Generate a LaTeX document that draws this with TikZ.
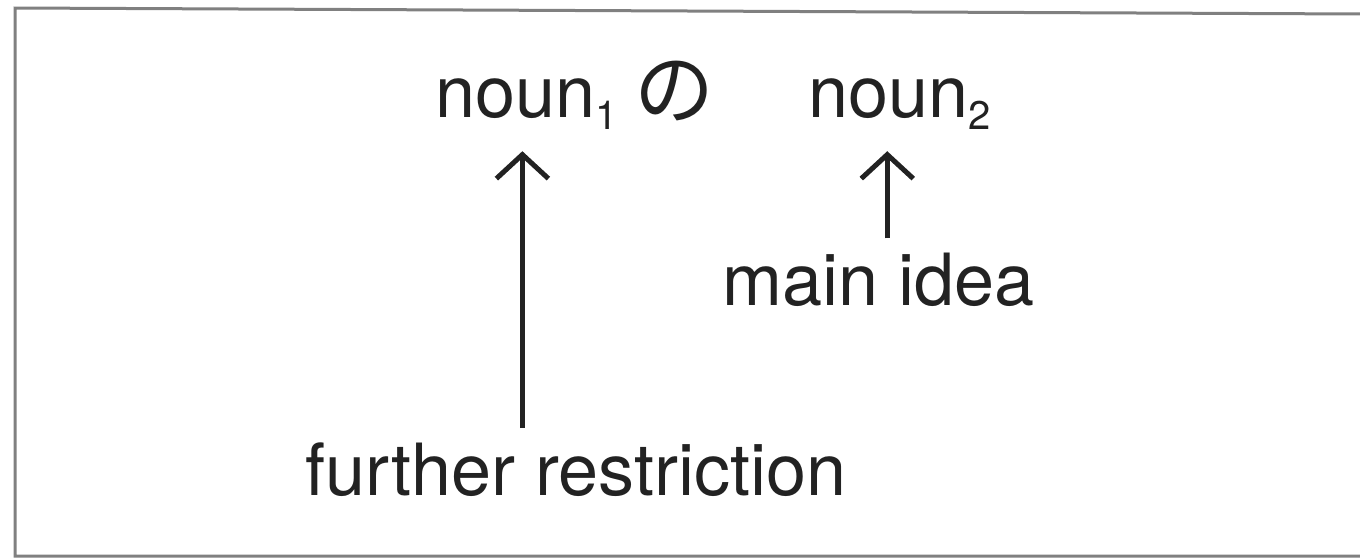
\documentclass[tikz,border=0pt]{standalone}
\usepackage{fontspec}
\setmainfont{TeX Gyre Heros}
\newfontfamily\jpfont{Noto Sans CJK JP}
\usetikzlibrary{arrows.meta,positioning}
\definecolor{ink}{HTML}{222222}
\definecolor{framegray}{HTML}{808080}
\newcommand{\nsub}[1]{\raisebox{-12pt}{\fontsize{40}{40}\selectfont #1}}
\tikzset{word/.style={text=ink,font=\fontsize{72}{80}\selectfont,inner sep=0pt,anchor=base west},
         pointer/.style={draw=ink,line width=5pt,-{Straight Barb[length=24pt,width=52pt,line width=5pt]}}}

\begin{document}
\begin{tikzpicture}[x=1pt,y=-1pt]
  \useasboundingbox (0,0) rectangle (1360,558);
  \draw[framegray,line width=3pt] (1362,14) -- (15,8) -- (15,556) -- (1362,556);
  \node[word] (noun1) at (435,117) {noun\nsub{1}};
  \node[word] (no) at (634,118) {\jpfont\fontsize{80}{90}\selectfont の};
  \node[word] (noun2) at (808,117) {noun\nsub{2}};
  \node[word] (main) at (722,305) {main idea};
  \node[word] (restr) at (305,495) {further restriction};
  \draw[pointer,shorten <=14pt,shorten >=22pt] ([xshift=-4pt]noun1.south |- restr.north) -- ([xshift=-4pt]noun1.south);
  \draw[pointer,shorten <=14pt,shorten >=22pt] ([xshift=9pt]main.north) -- ([xshift=9pt]main.north |- noun2.south);
\end{tikzpicture}
\end{document}
